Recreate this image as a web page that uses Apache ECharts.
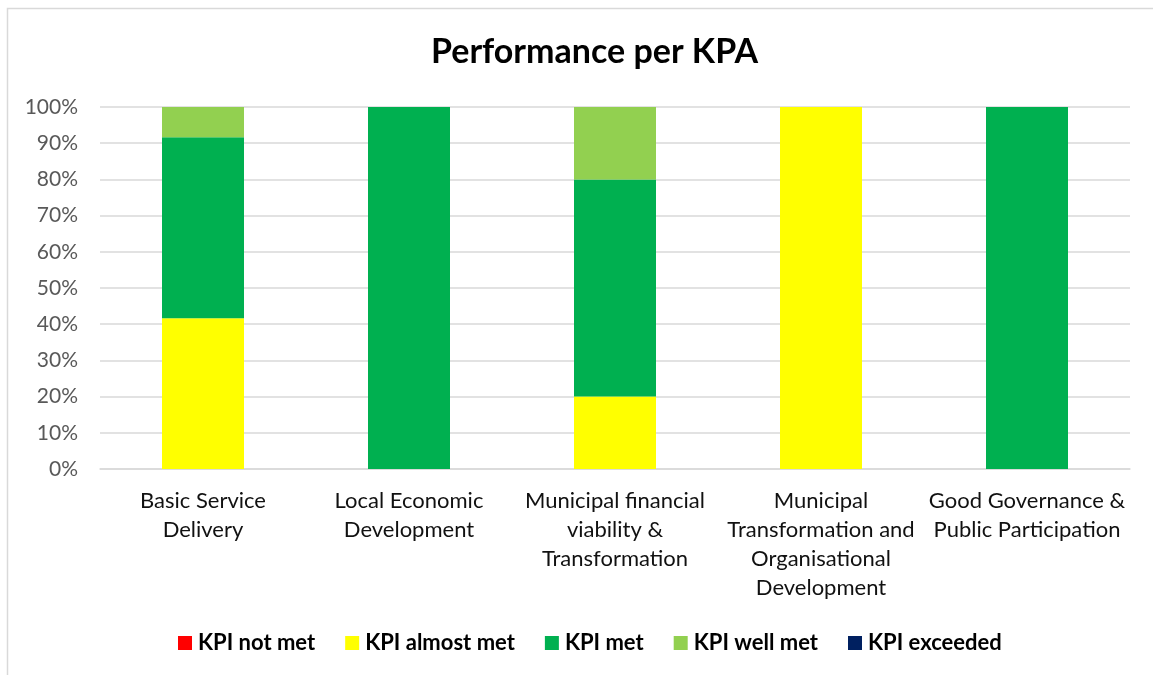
<!DOCTYPE html>
<html style="height: 100%">
<head>
	<meta charset="utf-8">
</head>
<body style="height: 100%; margin: 0; background: #fff">
<div id="container" style="width: 1153px; height: 675px"></div>
<script type="text/javascript" src="https://cdn.jsdelivr.net/npm/echarts@6/dist/echarts.min.js"></script>
<script type="text/javascript">
    var categories = [
        'Basic Service\nDelivery',
        'Local Economic\nDevelopment',
        'Municipal financial\nviability &\nTransformation',
        'Municipal\nTransformation and\nOrganisational\nDevelopment',
        'Good Governance &\nPublic Participation'
    ];
    var seriesNames = ['KPI not met', 'KPI almost met', 'KPI met', 'KPI well met', 'KPI exceeded'];
    var colors = ['#FF0000', '#FFFF00', '#00B050', '#92D050', '#002060'];

    // share of KPIs per category (%)
    var notMet = [0, 0, 0, 0, 0];
    var almostMet = [41.67, 0, 20, 100, 0];
    var met = [50, 100, 60, 0, 100];
    var wellMet = [8.33, 0, 20, 0, 0];
    var exceeded = [0, 0, 0, 0, 0];
    var yTicks = [0, 10, 20, 30, 40, 50, 60, 70, 80, 90, 100];

    var values = [notMet, almostMet, met, wellMet, exceeded];
    var font = 'Lato, "Open Sans", sans-serif';

    var dom = document.getElementById("container");
    var myChart = echarts.init(dom, null, {renderer: 'canvas'});

    var series = [];
    for (var i = 0; i < seriesNames.length; i++) {
        series.push({
            name: seriesNames[i],
            type: 'bar',
            stack: 'total',
            barWidth: 82,
            itemStyle: {color: colors[i]},
            data: values[i]
        });
    }

    var option = {
        animation: false,
        backgroundColor: '#fff',
        textStyle: {fontFamily: font},
        graphic: [{
            type: 'rect',
            shape: {x: 7.5, y: 8.5, width: 1200, height: 700},
            style: {fill: 'none', stroke: '#d9d9d9', lineWidth: 1.5},
            silent: true
        }],
        title: {
            text: 'Performance per KPA',
            left: 426,
            top: 30,
            textStyle: {fontSize: 34, fontWeight: 'bold', color: '#000', fontFamily: font}
        },
        legend: {
            top: 627,
            left: 173,
            itemWidth: 14,
            itemHeight: 14,
            itemGap: 30,
            icon: 'rect',
            textStyle: {fontSize: 22, fontWeight: 'bold', color: '#000', fontFamily: font, padding: [0, 0, 0, 1]},
            data: seriesNames
        },
        grid: {left: 100, right: 23, top: 107, bottom: 206, containLabel: false},
        xAxis: {
            type: 'category',
            data: categories,
            axisLine: {lineStyle: {color: '#d9d9d9', width: 1.5}},
            axisTick: {show: false},
            axisLabel: {
                fontSize: 22,
                color: '#111',
                lineHeight: 29,
                margin: 17,
                interval: 0,
                fontFamily: font
            }
        },
        yAxis: {
            type: 'value',
            min: 0,
            max: 100,
            interval: 10,
            axisLine: {show: false},
            axisTick: {show: false},
            splitLine: {lineStyle: {color: '#d9d9d9', width: 1.5}},
            axisLabel: {
                fontSize: 21,
                color: '#595959',
                margin: 22,
                fontFamily: font,
                formatter: function (v) {
                    return yTicks.indexOf(v) >= 0 ? v + '%' : '';
                }
            }
        },
        series: series
    };

    myChart.setOption(option);
</script>
</body>
</html>
